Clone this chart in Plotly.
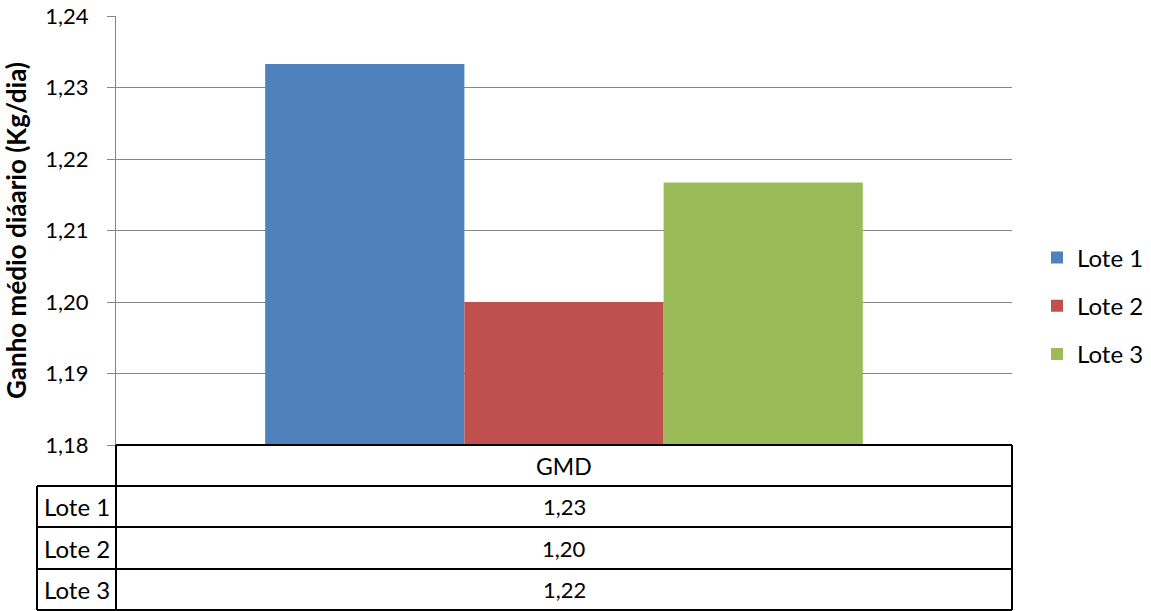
import plotly.graph_objects as go

# ---- data ----
categories = ["GMD"]
lotes = ["Lote 1", "Lote 2", "Lote 3"]
gmd_values = [1.2333, 1.2000, 1.2167]
colors = ["#4F81BD", "#C0504D", "#9BBB59"]
y_ticks = [1.18, 1.19, 1.20, 1.21, 1.22, 1.23, 1.24]

FONT = "Lato"
W, H = 1151, 611
L, R, T, B = 116, 1012, 16, 445  # plot area in pixels

def px_x(px):
    return (px - L) / (R - L)

def px_y(py):
    return (B - py) / (B - T)

def fmt(v):
    return f"{v:.2f}".replace(".", ",")

fig = go.Figure()
for i, (name, val) in enumerate(zip(lotes, gmd_values)):
    fig.add_trace(go.Bar(
        x=categories, y=[val - 1.18], base=1.18, name=name,
        marker=dict(color=colors[i], line=dict(width=0)),
        legendgroup=name, hoverinfo="skip",
    ))

shapes = []
line_black = dict(color="black", width=2)
shapes.append(dict(type="line", xref="paper", yref="paper",
                   x0=px_x(L), x1=px_x(R), y0=px_y(B), y1=px_y(B), line=line_black))
row_edges = [486, 527, 569, 610]
for ry in row_edges:
    shapes.append(dict(type="line", xref="paper", yref="paper",
                       x0=px_x(37), x1=px_x(R), y0=px_y(ry), y1=px_y(ry), line=line_black))
shapes.append(dict(type="line", xref="paper", yref="paper",
                   x0=px_x(37), x1=px_x(37), y0=px_y(486), y1=px_y(610), line=line_black))
shapes.append(dict(type="line", xref="paper", yref="paper",
                   x0=px_x(L), x1=px_x(L), y0=px_y(B), y1=px_y(610), line=line_black))
shapes.append(dict(type="line", xref="paper", yref="paper",
                   x0=px_x(R), x1=px_x(R), y0=px_y(B), y1=px_y(610), line=line_black))

annotations = []
wfont = dict(family=FONT, size=24, color="black")
nfont = dict(family=FONT, size=22, color="black")
annotations.append(dict(text=categories[0], xref="paper", yref="paper",
                        x=px_x((L + R) / 2), y=px_y((B + 486) / 2),
                        showarrow=False, font=dict(family=FONT, size=23, color="black"),
                        xanchor="center", yanchor="middle"))
row_tops = [486, 527, 569]
row_bots = [527, 569, 610]
for name, val, t0, t1 in zip(lotes, gmd_values, row_tops, row_bots):
    cy = px_y((t0 + t1) / 2)
    annotations.append(dict(text=name, xref="paper", yref="paper",
                            x=px_x((37 + L) / 2), y=cy, showarrow=False, font=wfont,
                            xanchor="center", yanchor="middle"))
    annotations.append(dict(text=fmt(val), xref="paper", yref="paper",
                            x=px_x((L + R) / 2), y=cy, showarrow=False, font=nfont,
                            xanchor="center", yanchor="middle"))

fig.update_layout(
    width=W, height=H,
    margin=dict(l=L, r=W - R, t=T, b=H - B, pad=0, autoexpand=False),
    paper_bgcolor="white", plot_bgcolor="white",
    separators=",.",
    barmode="group", bargap=0.333, bargroupgap=0,
    font=dict(family=FONT, size=22, color="black"),
    xaxis=dict(showticklabels=False, showgrid=False, zeroline=False,
               showline=False, ticks="", fixedrange=True, automargin=False),
    yaxis=dict(range=[1.18, 1.24], tickvals=y_ticks, tickformat=".2f",
               automargin=False,
               showgrid=True, gridcolor="#868686", gridwidth=1.3,
               showline=True, linecolor="#868686", linewidth=1.3,
               ticks="outside", ticklen=8, tickcolor="#868686", tickwidth=1.3,
               ticklabelstandoff=14,
               zeroline=False,
               tickfont=dict(family=FONT, size=22, color="black"),
               title=dict(text="<b>Ganho médio diáario (Kg/dia)</b>",
                          font=dict(family=FONT, size=26, color="black"),
                          standoff=12)),
    legend=dict(x=px_x(1037), xanchor="left", y=px_y(306), yanchor="middle",
                font=dict(family=FONT, size=24, color="black"),
                tracegroupgap=14, bgcolor="rgba(0,0,0,0)"),
    shapes=shapes, annotations=annotations,
    showlegend=True,
)

fig.write_html("out.html", post_script="document.body.style.margin='0';",
               config={"displayModeBar": False})
